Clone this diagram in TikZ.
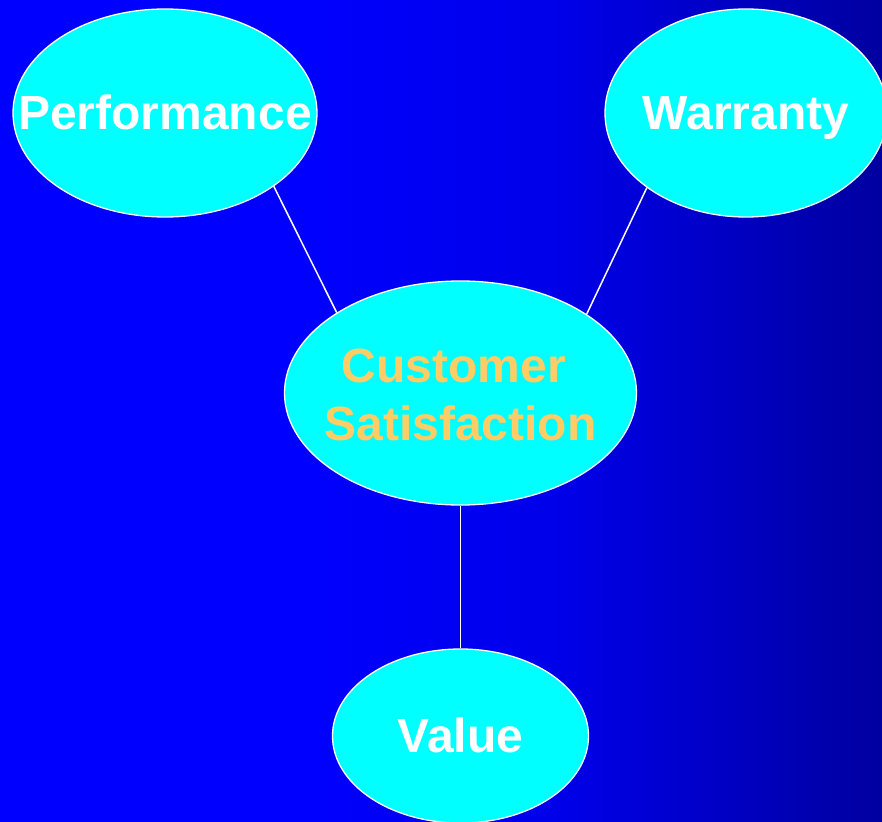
\documentclass[tikz,border=0pt]{standalone}
\usepackage{fontspec}
\setmainfont{Liberation Sans}
\usetikzlibrary{shapes.geometric}
\definecolor{bgblue}{RGB}{0,0,255}
\definecolor{bgmid}{RGB}{0,0,232}
\definecolor{bgdark}{RGB}{0,0,160}
\definecolor{cyanfill}{RGB}{0,255,255}
\definecolor{gold}{RGB}{255,204,102}
\pgfdeclarehorizontalshading{bgshade}{100bp}{color(0bp)=(bgblue); color(25bp)=(bgblue); color(42bp)=(bgblue); color(57bp)=(bgmid); color(75bp)=(bgdark); color(100bp)=(bgdark)}
\begin{document}
\begin{tikzpicture}[x=1pt,y=-1pt,
  oval/.style={ellipse, draw=white, line width=1.3pt, fill=cyanfill, inner sep=0pt},
  lbl/.style={font=\fontsize{48}{58}\selectfont\bfseries, text=white, align=center, anchor=base, inner sep=0pt},
  link/.style={draw=white, line width=1.5pt}]
\shade[shading=bgshade] (0,0) rectangle (882,821);
\useasboundingbox (0,0) rectangle (882,821);
\begin{scope}
\clip (0,0) rectangle (882,821);
\node[oval, minimum width=304pt, minimum height=208pt] (perf) at (165,113) {};
\node[oval, minimum width=282pt, minimum height=208pt] (warr) at (746,113) {};
\node[oval, minimum width=352pt, minimum height=224pt] (cs) at (460.5,393) {};
\node[oval, minimum width=256pt, minimum height=174pt] (val) at (460.5,736) {};
\end{scope}
\node[lbl] (tperf) at (165,130) {Performance};
\node[lbl] (twarr) at (746,130) {Warranty};
\node[lbl, text=gold] (tcs1) at (460.5,382) {Customer\ };
\node[lbl, text=gold] (tcs2) at (460.5,440) {Satisfaction};
\node[lbl] (tval) at (460.5,752) {Value};
\draw[link] (perf.-34.7) -- (cs.147);
\draw[link] (warr.-143.5) -- (cs.32.7);
\draw[link] (cs.south) -- (val.north);
\end{tikzpicture}
\end{document}
